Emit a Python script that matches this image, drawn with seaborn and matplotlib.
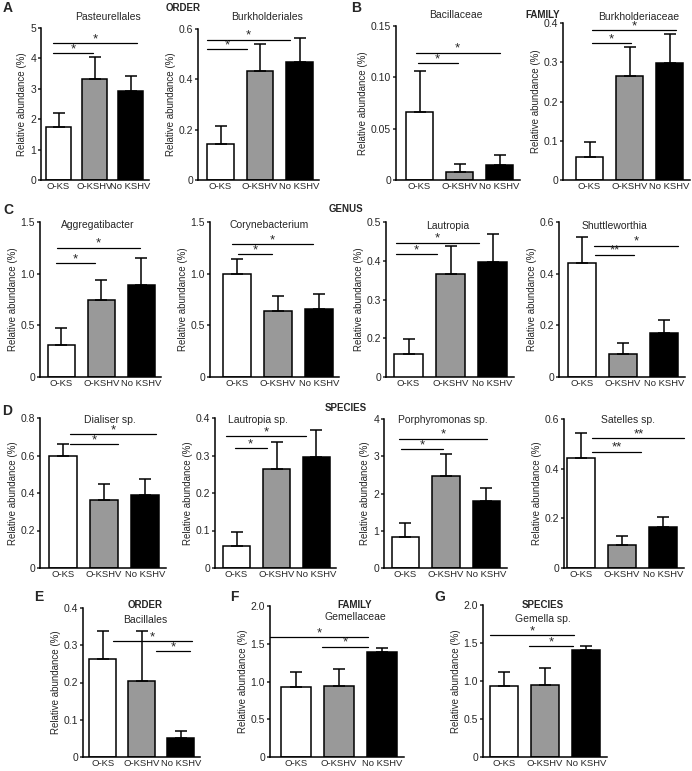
import numpy as np
import pandas as pd
import seaborn as sns
import matplotlib
matplotlib.use("Agg")
import matplotlib.pyplot as plt

sns.set_style("white")
plt.rcParams['font.family'] = ['Liberation Sans', 'DejaVu Sans']

groups = ["O-KS", "O-KSHV", "No KSHV"]
colors = ["white", "#999999", "black"]

# mean and upper error (SEM) per group
pasteurellales = [1.75, 3.33, 2.94]
pasteurellales_err = [0.45, 0.71, 0.47]
burkholderiales = [0.143, 0.434, 0.467]
burkholderiales_err = [0.070, 0.107, 0.096]
bacillaceae = [0.0666, 0.008, 0.0146]
bacillaceae_err = [0.040, 0.0076, 0.0098]
burkholderiaceae = [0.058, 0.265, 0.299]
burkholderiaceae_err = [0.040, 0.075, 0.074]
aggregatibacter = [0.306, 0.748, 0.887]
aggregatibacter_err = [0.168, 0.194, 0.265]
corynebacterium = [1.0, 0.635, 0.658]
corynebacterium_err = [0.139, 0.145, 0.142]
lautropia = [0.159, 0.365, 0.397]
lautropia_err = [0.038, 0.073, 0.073]
shuttleworthia = [0.44, 0.088, 0.172]
shuttleworthia_err = [0.101, 0.042, 0.047]
dialiser = [0.596, 0.364, 0.391]
dialiser_err = [0.066, 0.084, 0.084]
lautropia_sp = [0.059, 0.264, 0.296]
lautropia_sp_err = [0.038, 0.072, 0.073]
porphyromonas = [0.82, 2.48, 1.80]
porphyromonas_err = [0.40, 0.58, 0.36]
satelles = [0.442, 0.091, 0.166]
satelles_err = [0.100, 0.039, 0.040]
bacillales = [0.263, 0.203, 0.051]
bacillales_err = [0.075, 0.135, 0.018]
gemellaceae = [0.925, 0.945, 1.395]
gemellaceae_err = [0.195, 0.222, 0.052]
gemella = [0.93, 0.952, 1.407]
gemella_err = [0.195, 0.225, 0.052]

# y ticks and their labels
ticks_5 = [0, 1, 2, 3, 4, 5]
ticks_06 = [0, 0.2, 0.4, 0.6]
labels_06 = ["0", "0.2", "0.4", "0.6"]
ticks_015 = [0, 0.05, 0.10, 0.15]
labels_015 = ["0", "0.05", "0.10", "0.15"]
ticks_04 = [0, 0.1, 0.2, 0.3, 0.4]
labels_04 = ["0", "0.1", "0.2", "0.3", "0.4"]
ticks_15 = [0, 0.5, 1.0, 1.5]
labels_15 = ["0", "0.5", "1.0", "1.5"]
ticks_lautropia = [0.1, 0.2, 0.3, 0.4, 0.5]
labels_lautropia = ["0", "0.2", "0.3", "0.4", "0.5"]
ticks_08 = [0, 0.2, 0.4, 0.6, 0.8]
labels_08 = ["0", "0.2", "0.4", "0.6", "0.8"]
ticks_4 = [0, 1, 2, 3, 4]
ticks_2 = [0, 0.5, 1.0, 1.5, 2.0]
labels_2 = ["0", "0.5", "1.0", "1.5", "2.0"]

# significance brackets: (x from, x to, y, label)
sig_pasteurellales = [(-0.15, 0.96, 4.18, "*"), (-0.15, 2.18, 4.5, "*")]
sig_burkholderiales = [(-0.33, 0.66, 0.52, "*"), (-0.33, 1.76, 0.558, "*")]
sig_bacillaceae = [(-0.05, 0.95, 0.1136, "*"), (-0.09, 2.0, 0.124, "*")]
sig_burkholderiaceae = [(0.06, 1.04, 0.349, "*"), (0.06, 2.16, 0.381, "*")]
sig_aggregatibacter = [(-0.13, 0.84, 1.103, "*"), (-0.1, 1.97, 1.25, "*")]
sig_corynebacterium = [(0.04, 0.85, 1.187, "*"), (-0.12, 1.87, 1.284, "*")]
sig_lautropia = [(-0.3, 0.67, 0.417, "*"), (-0.3, 1.69, 0.447, "*")]
sig_shuttleworthia = [(0.32, 1.28, 0.473, "**"), (0.3, 2.33, 0.509, "*")]
sig_dialiser = [(0.17, 1.35, 0.662, "*"), (0.17, 2.27, 0.715, "*")]
sig_lautropia_sp = [(-0.05, 0.75, 0.319, "*"), (-0.26, 1.75, 0.352, "*")]
sig_porphyromonas = [(-0.11, 0.93, 3.19, "*"), (-0.16, 2.01, 3.47, "*")]
sig_satelles = [(0.28, 1.46, 0.469, "**"), (0.28, 2.52, 0.522, "**")]
sig_bacillales = [(0.27, 2.28, 0.311, "*"), (1.37, 2.24, 0.284, "*")]
sig_gemellaceae = [(-0.6, 1.68, 1.59, "*"), (0.6, 1.68, 1.46, "*")]
sig_gemella = [(-0.34, 1.71, 1.60, "*"), (0.62, 1.68, 1.459, "*")]

W, H = 692, 771
fig = plt.figure(figsize=(W / 100, H / 100), dpi=100)


def panel(values, errs, yticks, yticklabels, sig, spine, c0, slot, ytop, ybot):
    xleft = -(c0 - spine) / slot
    width = (2.5 - xleft) * slot
    ax = fig.add_axes([spine / W, 1 - ybot / H, width / W, (ybot - ytop) / H])
    df = pd.DataFrame({"group": groups, "value": values})
    sns.barplot(data=df, x="group", y="value", hue="group", palette=colors,
                edgecolor="black", linewidth=1.1, width=0.68, errorbar=None,
                legend=False, ax=ax)
    ax.errorbar([0, 1, 2], values, yerr=[[0, 0, 0], errs], fmt="none",
                ecolor="black", elinewidth=1.1, capsize=4.5, capthick=1.1, zorder=3)
    for x1, x2, y, lab in sig:
        ax.plot([x1, x2], [y, y], color="black", lw=0.9, clip_on=False)
        ax.annotate(lab, xy=((x1 + x2) / 2, y), xytext=(0, -1.5),
                    textcoords="offset points", ha="center", va="bottom",
                    fontsize=9.5)
    ax.set_xlim(xleft, 2.5)
    ax.set_ylim(yticks[0], yticks[-1])
    ax.set_yticks(yticks)
    ax.set_yticklabels(yticklabels)
    ax.set_xlabel("")
    ax.set_ylabel("Relative abundance (%)", fontsize=7, labelpad=2)
    for s in ["top", "right"]:
        ax.spines[s].set_visible(False)
    for s in ["left", "bottom"]:
        ax.spines[s].set_linewidth(1.1)
        ax.spines[s].set_color("black")
    ax.tick_params(axis="y", direction="out", length=2.5, width=1.1,
                   labelsize=7.5, pad=1, left=True)
    ax.tick_params(axis="x", length=0, labelsize=6.8, pad=1.5)
    return ax


def ftext(x, y, s, **kw):
    fig.text(x / W, 1 - y / H, s, ha="center", va="center", **kw)


panel(pasteurellales, pasteurellales_err, ticks_5, [str(t) for t in ticks_5],
      sig_pasteurellales, 41, 58.5, 36, 28, 180)
panel(burkholderiales, burkholderiales_err, ticks_06, labels_06,
      sig_burkholderiales, 198, 220.5, 39.5, 29, 180)
panel(bacillaceae, bacillaceae_err, ticks_015, labels_015,
      sig_bacillaceae, 396, 419.5, 40, 26, 180)
panel(burkholderiaceae, burkholderiaceae_err, ticks_04, labels_04,
      sig_burkholderiaceae, 563, 589.5, 40, 23, 180)

panel(aggregatibacter, aggregatibacter_err, ticks_15, labels_15,
      sig_aggregatibacter, 40, 61.3, 40, 222, 377)
panel(corynebacterium, corynebacterium_err, ticks_15, labels_15,
      sig_corynebacterium, 210, 236.7, 41, 222, 377)
panel(lautropia, lautropia_err, ticks_lautropia, labels_lautropia,
      sig_lautropia, 386, 408.5, 42, 222, 377)
panel(shuttleworthia, shuttleworthia_err, ticks_06, labels_06,
      sig_shuttleworthia, 559, 582, 41, 222, 377)

panel(dialiser, dialiser_err, ticks_08, labels_08,
      sig_dialiser, 40, 63, 41, 418, 568)
panel(lautropia_sp, lautropia_sp_err, ticks_04, labels_04,
      sig_lautropia_sp, 215, 236.5, 40, 418, 568)
panel(porphyromonas, porphyromonas_err, ticks_4, [str(t) for t in ticks_4],
      sig_porphyromonas, 384, 405.5, 40.5, 419, 568)
panel(satelles, satelles_err, ticks_06, labels_06,
      sig_satelles, 564, 581, 41, 419, 568)

panel(bacillales, bacillales_err, ticks_04, labels_04,
      sig_bacillales, 83, 102.7, 39, 608, 757)
panel(gemellaceae, gemellaceae_err, ticks_2, labels_2,
      sig_gemellaceae, 270, 296, 43, 606, 757)
panel(gemella, gemella_err, ticks_2, labels_2,
      sig_gemella, 483, 504, 41, 605, 757)

# subplot titles
for x, y, s in [(108, 17, "Pasteurellales"), (267, 17, "Burkholderiales"),
                (456, 15, "Bacillaceae"), (639, 17, "Burkholderiaceae"),
                (98, 225, "Aggregatibacter"), (269, 225, "Corynebacterium"),
                (448, 226, "Lautropia"), (614, 226, "Shuttleworthia"),
                (110, 420, "Dialiser sp."), (258, 420, "Lautropia sp."),
                (443, 420, "Porphyromonas sp."), (628, 420, "Satelles sp."),
                (145, 620, "Bacillales"), (355, 617, "Gemellaceae"),
                (543, 619, "Gemella sp.")]:
    ftext(x, y, s, fontsize=7.5)

# section headings
for x, y, s in [(183, 8, "ORDER"), (543, 15, "FAMILY"), (346, 209, "GENUS"),
                (346, 408, "SPECIES"), (145, 605, "ORDER"), (355, 605, "FAMILY"),
                (543, 605, "SPECIES")]:
    ftext(x, y, s, fontsize=7, fontweight="bold")

# panel letters
for x, y, s in [(8, 8, "A"), (356, 8, "B"), (8, 210, "C"), (7, 411, "D"),
                (39, 597, "E"), (234, 597, "F"), (440, 597, "G")]:
    ftext(x, y, s, fontsize=10, fontweight="bold")

fig.savefig("out.png", dpi=100)
